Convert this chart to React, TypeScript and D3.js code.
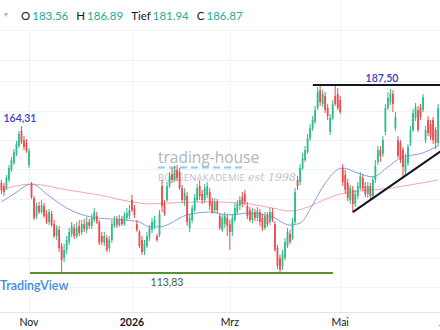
import React from 'react';
import * as d3 from 'd3';

const W = 440;
const H = 330;

// Daily OHLC (price units)
const openP = [149.1,147.9,147.1,150.3,154.2,156.9,160.5,163.6,169.5,165.9,164.8,156.2,148.7,143.2,136.2,140.1,137.7,140.1,137.0,133.8,
137.0,133.0,128.3,130.7,124.4,119.7,122.9,126.0,129.1,131.5,128.3,132.3,129.9,133.0,130.7,133.8,132.3,134.6,136.2,133.8,
128.3,125.6,127.5,123.6,126.8,132.3,134.6,132.6,135.0,133.0,135.4,136.2,142.4,139.3,133.0,129.9,126.8,122.1,124.4,127.5,
130.7,132.3,128.3,128.7,147.9,140.9,142.4,147.9,152.6,150.3,154.2,153.4,147.1,142.4,144.0,131.5,134.6,138.5,142.4,147.9,
144.8,142.4,144.4,145.6,141.7,138.5,141.7,136.2,130.7,133.0,135.4,133.0,129.9,134.6,137.7,140.1,143.6,144.8,140.1,138.5,
134.6,137.7,135.4,137.7,135.4,131.5,136.2,133.8,137.7,133.0,123.6,119.7,116.6,119.7,124.4,129.1,127.5,133.8,150.3,149.5,
155.0,158.1,161.2,166.7,170.6,173.0,178.5,185.5,180.1,183.2,178.5,169.1,174.6,183.2,184.0,181.6,155.0,152.2,149.1,142.4,
146.4,140.9,144.0,147.1,151.1,147.9,144.8,147.9,144.0,150.3,157.3,162.0,160.5,169.1,178.5,180.8,184.0,170.6,165.9,164.8,
162.0,153.4,156.9,164.8,169.9,174.6,177.7,178.9,177.7,165.9,173.8,172.2,173.8,169.9,164.8];
const highP = [150.3,149.1,152.2,156.2,159.3,162.4,165.6,169.5,171.4,167.5,166.3,162.8,149.5,144.0,141.3,141.7,142.4,141.3,138.5,138.9,
138.1,134.6,132.6,132.3,125.6,125.2,128.3,131.5,133.8,133.0,133.8,134.6,134.6,135.0,135.8,135.0,137.0,139.3,137.7,134.6,
129.9,129.9,128.7,128.3,134.6,136.2,136.2,136.6,136.2,137.7,139.3,140.5,144.4,140.5,134.6,130.7,128.3,126.8,129.9,132.6,
135.4,136.2,129.1,138.5,150.3,142.4,149.5,153.4,155.0,155.8,156.2,155.0,148.3,147.1,145.6,137.0,140.5,144.8,148.7,150.3,
146.4,148.7,149.5,147.1,143.2,143.2,142.8,137.3,136.6,137.7,137.0,134.6,137.0,141.3,142.4,144.0,145.6,146.4,141.7,139.7,
139.3,138.9,139.7,138.9,137.0,137.7,137.7,139.3,139.3,134.2,124.8,120.9,122.9,127.5,131.5,130.7,135.4,147.1,151.8,156.5,
160.9,163.6,168.3,172.2,175.3,179.3,186.7,187.1,185.5,184.7,180.1,176.1,181.6,187.9,186.3,183.2,156.5,154.2,150.7,148.3,
147.9,146.4,149.5,153.4,152.6,149.5,149.5,149.1,151.8,158.1,163.6,163.6,167.5,180.1,184.7,185.9,185.5,176.9,167.5,165.9,
163.2,160.5,164.4,171.4,178.1,180.4,179.3,180.1,184.0,171.4,175.3,173.8,175.0,171.0,180.1];
const lowP = [144.8,144.0,146.4,149.5,153.4,156.2,159.7,162.8,164.4,162.0,160.9,155.0,142.8,134.6,135.0,137.0,137.0,135.4,133.0,132.6,
131.9,127.5,126.8,122.1,113.83,118.1,121.3,124.8,127.9,127.2,127.5,128.3,128.7,129.9,129.5,131.1,131.1,133.8,133.0,124.8,
124.8,124.4,122.1,122.1,125.6,131.5,131.5,131.9,132.3,132.3,134.2,135.0,137.7,135.4,129.9,123.6,120.9,120.9,123.6,126.4,
129.5,131.1,126.0,127.9,137.7,136.2,141.7,147.1,149.1,149.5,149.9,146.4,141.3,140.1,132.3,129.9,133.4,137.7,141.7,142.4,
140.9,141.3,143.2,138.5,137.0,137.3,137.3,130.7,129.9,131.5,128.3,122.9,128.3,133.8,136.6,138.5,139.7,140.5,135.0,133.8,
133.4,134.2,134.2,132.3,130.3,130.7,131.9,132.6,133.8,122.1,115.4,114.2,115.0,118.9,123.6,125.2,126.8,133.0,146.4,148.3,
154.2,157.3,160.5,165.6,169.5,172.2,177.7,179.3,178.9,176.5,173.8,167.9,173.8,179.3,177.7,176.1,147.9,144.8,142.0,140.9,
137.7,139.7,142.8,146.4,146.0,143.6,143.2,142.8,143.2,149.1,156.2,157.3,159.3,167.9,177.7,179.7,176.9,169.5,158.9,156.9,
151.5,152.2,155.8,163.6,169.1,173.4,169.1,173.8,176.9,164.8,167.5,165.9,164.4,162.4,163.6];
const closeP = [146.4,145.6,151.1,155.0,158.1,161.2,164.4,168.3,165.2,163.2,161.6,161.6,143.6,135.4,140.1,137.7,140.5,136.2,133.8,137.7,
132.6,128.3,131.5,123.6,118.9,122.9,126.8,129.9,132.3,128.3,131.5,129.5,133.0,131.1,133.8,132.3,135.4,137.7,133.8,125.6,
126.0,128.3,122.9,126.8,133.0,134.6,132.6,135.0,133.0,136.6,137.3,138.5,138.5,136.6,130.7,124.4,122.1,125.2,128.3,131.5,
133.8,134.6,126.8,137.0,140.1,137.0,147.9,151.8,150.3,154.2,151.1,147.1,142.4,145.2,133.8,135.4,139.3,143.2,147.1,144.0,
142.4,147.1,147.9,140.1,137.7,141.7,138.5,131.5,135.4,136.2,132.3,129.9,135.4,139.3,140.9,142.4,140.9,141.7,136.2,134.6,
137.7,135.4,138.1,133.8,131.5,136.2,133.0,137.7,134.6,122.9,116.6,115.0,121.3,126.0,129.9,126.0,133.8,145.6,147.9,155.0,
158.9,162.0,166.7,170.6,173.8,177.7,184.7,180.8,184.0,177.7,175.3,174.6,180.1,180.1,178.5,176.9,149.5,146.4,143.2,147.1,
140.9,144.8,147.9,151.8,147.1,144.8,147.9,144.0,150.3,155.8,162.0,159.7,165.9,178.5,182.4,184.0,180.1,175.0,159.7,158.1,
155.4,158.9,163.2,169.9,176.5,178.9,169.9,175.0,182.8,169.9,168.7,167.1,165.9,164.8,178.5];

// Moving averages (sampled at bar index)
const maFastIdx = [0,5,12,19,26,38,50,55,59,63,74,83,90,99,108,115,119,124,128,136,142,148,154,159,168,174];
const maFastVal = [141.7,144.8,148.7,144.0,139.3,135.4,134.6,133.8,131.9,131.9,136.6,137.7,136.6,137.3,135.8,132.6,133.4,140.5,147.5,155.0,153.0,151.5,155.4,158.9,160.9,163.6];
const maSlowIdx = [0,12,26,39,52,59,68,82,95,108,115,135,155,174];
const maSlowVal = [146.4,148.7,146.4,144.4,141.7,140.9,141.3,141.7,141.3,139.3,138.1,144.8,147.1,150.3];

// Drawn annotations
const resistancePrice = 187.5;
const resistanceFrom = 124.1;
const supportPrice = 113.83;
const supportFrom = 11.4;
const supportTo = 132.1;
const trendIdx = [140, 176];
const trendVal = [137.7, 162.2];

// Axis
const xTickIdx = [11, 52, 91, 135, 177];
const xTickLabels = ['Nov', '2026', 'Mrz', 'Mai', 'Jul'];
const xTickBold = [false, true, false, false, false];
const gridPrices = [209, 197.3, 189.1, 177.5, 165.9, 154.4, 142.8, 131.3, 119.7, 108.4];

const legendLabels = ['O', 'H', 'Tief', 'C'];
const legendValues = ['183.56', '186.89', '181.94', '186.87'];

const UP = '#2dbd8c';
const DOWN = '#ef4b4b';
const FONT = 'Lato, "Noto Sans", sans-serif';

export default function App() {
  const n = closeP.length;
  const x = d3.scaleLinear().domain([0, n - 1]).range([1.4, 438.1]);
  const y = d3.scaleLinear().domain([113.83, 187.5]).range([273, 85]);
  const axisY = 312;

  const line = d3.line<[number, number]>()
    .x(d => x(d[0]))
    .y(d => y(d[1]))
    .curve(d3.curveMonotoneX);

  const fastPath = line(maFastIdx.map((v, i) => [v, maFastVal[i]] as [number, number])) || '';
  const slowPath = line(maSlowIdx.map((v, i) => [v, maSlowVal[i]] as [number, number])) || '';

  const bw = 1.8;
  const peakIdx = 8;

  return (
    <svg width={W} height={H} style={{ position: 'absolute', left: 0, top: 0, background: '#fff' }}
      fontFamily={FONT}>
      <rect x={0} y={0} width={W} height={H} fill="#ffffff" />
      {/* grid */}
      {gridPrices.map((p, i) => (
        <line key={'g' + i} x1={0} x2={W} y1={Math.round(y(p)) + 0.5} y2={Math.round(y(p)) + 0.5}
          stroke="#f0f2f6" strokeWidth={1} />
      ))}
      {xTickIdx.map((t, i) => (
        <line key={'v' + i} x1={Math.round(x(t)) + 0.5} x2={Math.round(x(t)) + 0.5} y1={0} y2={axisY}
          stroke="#f0f2f6" strokeWidth={1} />
      ))}
      {/* legend backdrop */}
      <rect x={0} y={0} width={265} height={30} fill="#ffffff" />

      {/* watermark */}
      <g opacity={0.85}>
        <text x={158} y={163} fontSize={15.5} fill="#a3a9b1" fontFamily='"Open Sans", sans-serif'>trading-house</text>
        <line x1={158} x2={245} y1={167.5} y2={167.5} stroke="#7cc4ec" strokeWidth={2} strokeDasharray="7,4" />
        <text x={158} y={181} fontSize={9.6} fill="#b3b8bf" fontFamily='"Open Sans", sans-serif' letterSpacing={0.2}>BÖRSENAKADEMIE</text>
        <text x={248} y={181} fontSize={11} fill="#b3b8bf" fontStyle="italic" fontFamily='"DejaVu Serif", serif'>est 1998</text>
      </g>

      {/* moving averages */}
      <path d={slowPath} fill="none" stroke="#f3a6b8" strokeWidth={1} />
      <path d={fastPath} fill="none" stroke="#8e9be6" strokeWidth={1} />

      {/* support line */}
      <line x1={x(supportFrom)} x2={x(supportTo)} y1={y(supportPrice)} y2={y(supportPrice)} stroke="#5a8f2e" strokeWidth={2} />

      {/* candles */}
      {closeP.map((c, i) => {
        const o = openP[i];
        const up = c >= o;
        const col = up ? UP : DOWN;
        const cx = x(i);
        const top = y(Math.max(o, c));
        const bot = y(Math.min(o, c));
        return (
          <g key={'c' + i}>
            <rect x={cx - 0.5} y={y(highP[i])} width={1} height={Math.max(1, y(lowP[i]) - y(highP[i]))} fill={col} />
            <rect x={cx - bw / 2} y={top} width={bw} height={Math.max(1, bot - top)} fill={col} />
          </g>
        );
      })}

      {/* resistance & trend lines */}
      <line x1={x(resistanceFrom)} x2={W + 5} y1={y(resistancePrice)} y2={y(resistancePrice)} stroke="#131722" strokeWidth={2} />
      <line x1={x(trendIdx[0])} x2={x(trendIdx[1])} y1={y(trendVal[0])} y2={y(trendVal[1])} stroke="#131722" strokeWidth={2} />

      {/* annotation labels */}
      <text x={x(peakIdx) - 1.5} y={y(highP[peakIdx]) - 4} fontSize={10.5} fill="#3b3bc6" textAnchor="middle" fontWeight={600}>164,31</text>
      <text x={382} y={y(resistancePrice) - 3} fontSize={10.5} fill="#3b3bc6" textAnchor="middle" fontWeight={600}>187,50</text>
      <text x={167} y={y(supportPrice) + 13} fontSize={10.5} fill="#3f5f3f" textAnchor="middle">113,83</text>

      {/* TradingView logo text */}
      <text x={0} y={290} fontSize={12.5} fill="#3d8be3" fontWeight={600}>TradingView</text>

      {/* x axis */}
      <line x1={0} x2={W} y1={axisY + 0.5} y2={axisY + 0.5} stroke="#e0e3eb" strokeWidth={1} />
      {xTickIdx.map((t, i) => (
        <text key={'t' + i} x={x(t)} y={326} fontSize={10.5} fill="#131722" textAnchor="middle"
          fontWeight={xTickBold[i] ? 700 : 400}>{xTickLabels[i]}</text>
      ))}

      {/* legend */}
      <text x={4} y={17} fontSize={8} fill="#b0b4bc">▾</text>
      <text x={21} y={20} fontSize={11.5}>
        {legendLabels.map((l, i) => (
          <React.Fragment key={'l' + i}>
            <tspan dx={i === 0 ? 0 : 8} fill="#131722">{l}</tspan>
            <tspan dx={2} fill="#22ab94">{legendValues[i]}</tspan>
          </React.Fragment>
        ))}
      </text>
    </svg>
  );
}
